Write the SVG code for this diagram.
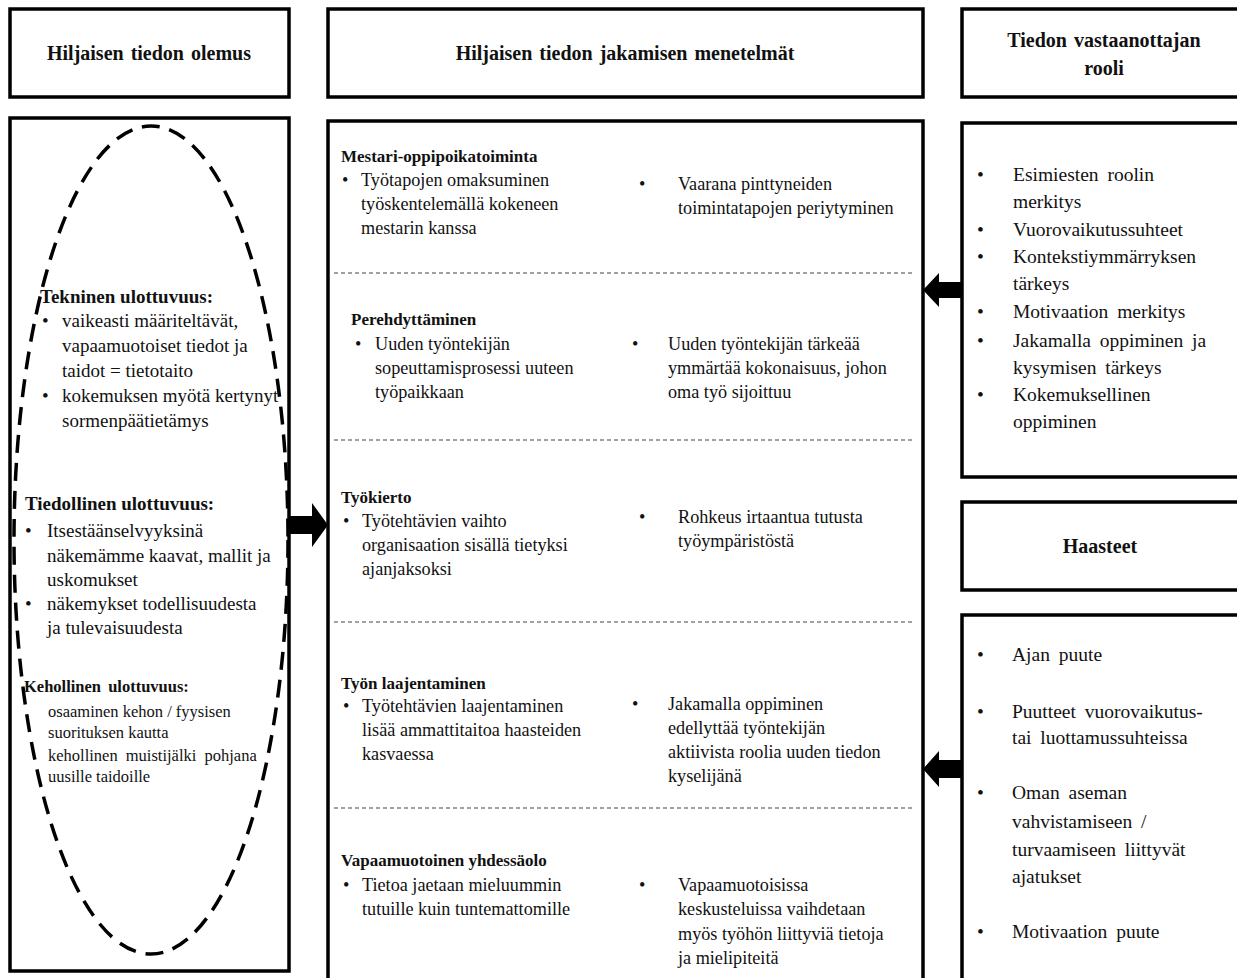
<svg xmlns="http://www.w3.org/2000/svg" width="1237" height="978" viewBox="0 0 1237 978">
<style>
.box{fill:#fff;stroke:#000;stroke-width:3.5}
.sep{stroke:#444;stroke-width:1.2;stroke-dasharray:4 3;fill:none}
text{font-family:"Liberation Serif","Times New Roman",serif;fill:#111}
.h{font-size:20px;font-weight:bold;text-anchor:middle;word-spacing:2px}
.sh{font-size:17px;font-weight:bold}
.t{font-size:18.2px}
.lh{font-size:19px;font-weight:bold}
.lt{font-size:19px}
.k{font-size:16.5px}
.kh{font-size:16.5px;font-weight:bold;word-spacing:3px}
.r{font-size:19.5px;word-spacing:4px}
.arrow{fill:#000}
</style>
<rect width="1237" height="978" fill="#fff"/>

<g id="hdr-olemus">
<rect class="box" x="10" y="9" width="279" height="88"/>
<text class="h" x="149" y="60">Hiljaisen tiedon olemus</text>
</g>

<g id="hdr-menetelmat">
<rect class="box" x="328" y="9" width="595" height="88"/>
<text class="h" x="625" y="60">Hiljaisen tiedon jakamisen menetelmät</text>
</g>

<g id="hdr-rooli">
<rect class="box" x="962" y="9" width="290" height="88"/>
<text class="h" x="1104" y="47">Tiedon vastaanottajan</text>
<text class="h" x="1104" y="75">rooli</text>
</g>

<g id="olemus">
<rect class="box" x="10" y="118" width="279" height="853"/>
<ellipse cx="151" cy="540" rx="137" ry="414" fill="none" stroke="#000" stroke-width="3.5" stroke-dasharray="18 10"/>
<text class="lh" x="40" y="303">Tekninen ulottuvuus:</text>
<text class="lt" x="42" y="327">•</text>
<text class="lt" x="62" y="327">vaikeasti määriteltävät,</text>
<text class="lt" x="62" y="352">vapaamuotoiset tiedot ja</text>
<text class="lt" x="62" y="377">taidot = tietotaito</text>
<text class="lt" x="42" y="402">•</text>
<text class="lt" x="62" y="402">kokemuksen myötä kertynyt</text>
<text class="lt" x="62" y="427">sormenpäätietämys</text>

<text class="lh" x="25" y="510">Tiedollinen ulottuvuus:</text>
<text class="lt" x="25" y="537">•</text>
<text class="lt" x="47" y="537">Itsestäänselvyyksinä</text>
<text class="lt" x="47" y="562">näkemämme kaavat, mallit ja</text>
<text class="lt" x="47" y="586">uskomukset</text>
<text class="lt" x="25" y="610">•</text>
<text class="lt" x="47" y="610">näkemykset todellisuudesta</text>
<text class="lt" x="47" y="634">ja tulevaisuudesta</text>

<text class="kh" x="24" y="692">Kehollinen ulottuvuus:</text>
<text class="k" x="48" y="717">osaaminen kehon / fyysisen</text>
<text class="k" x="48" y="738">suorituksen kautta</text>
<text class="k" x="48" y="761" word-spacing="4">kehollinen muistijälki pohjana</text>
<text class="k" x="48" y="782">uusille taidoille</text>
</g>

<g id="menetelmat">
<rect class="box" x="328" y="121" width="595" height="870"/>
<line class="sep" x1="334" y1="273" x2="912" y2="273"/>
<line class="sep" x1="334" y1="440" x2="912" y2="440"/>
<line class="sep" x1="334" y1="622" x2="912" y2="622"/>
<line class="sep" x1="334" y1="808" x2="912" y2="808"/>

<text class="sh" x="341" y="162">Mestari-oppipoikatoiminta</text>
<text class="t" x="342" y="186">•</text>
<text class="t" x="361" y="186">Työtapojen omaksuminen</text>
<text class="t" x="361" y="210">työskentelemällä kokeneen</text>
<text class="t" x="361" y="234">mestarin kanssa</text>
<text class="t" x="639" y="190">•</text>
<text class="t" x="678" y="190">Vaarana pinttyneiden</text>
<text class="t" x="678" y="214">toimintatapojen periytyminen</text>

<text class="sh" x="351" y="325">Perehdyttäminen</text>
<text class="t" x="355" y="350">•</text>
<text class="t" x="375" y="350">Uuden työntekijän</text>
<text class="t" x="375" y="374">sopeuttamisprosessi uuteen</text>
<text class="t" x="375" y="398">työpaikkaan</text>
<text class="t" x="632" y="350">•</text>
<text class="t" x="668" y="350">Uuden työntekijän tärkeää</text>
<text class="t" x="668" y="374">ymmärtää kokonaisuus, johon</text>
<text class="t" x="668" y="398">oma työ sijoittuu</text>

<text class="sh" x="341" y="503">Työkierto</text>
<text class="t" x="343" y="527">•</text>
<text class="t" x="362" y="527">Työtehtävien vaihto</text>
<text class="t" x="362" y="551">organisaation sisällä tietyksi</text>
<text class="t" x="362" y="575">ajanjaksoksi</text>
<text class="t" x="639" y="523">•</text>
<text class="t" x="678" y="523">Rohkeus irtaantua tutusta</text>
<text class="t" x="678" y="547">työympäristöstä</text>

<text class="sh" x="341" y="689">Työn laajentaminen</text>
<text class="t" x="343" y="712">•</text>
<text class="t" x="362" y="712">Työtehtävien laajentaminen</text>
<text class="t" x="362" y="736">lisää ammattitaitoa haasteiden</text>
<text class="t" x="362" y="760">kasvaessa</text>
<text class="t" x="632" y="710">•</text>
<text class="t" x="668" y="710">Jakamalla oppiminen</text>
<text class="t" x="668" y="734">edellyttää työntekijän</text>
<text class="t" x="668" y="758">aktiivista roolia uuden tiedon</text>
<text class="t" x="668" y="782">kyselijänä</text>

<text class="sh" x="341" y="866">Vapaamuotoinen yhdessäolo</text>
<text class="t" x="343" y="891">•</text>
<text class="t" x="362" y="891">Tietoa jaetaan mieluummin</text>
<text class="t" x="362" y="915">tutuille kuin tuntemattomille</text>
<text class="t" x="639" y="891">•</text>
<text class="t" x="678" y="891">Vapaamuotoisissa</text>
<text class="t" x="678" y="915">keskusteluissa vaihdetaan</text>
<text class="t" x="678" y="940">myös työhön liittyviä tietoja</text>
<text class="t" x="678" y="964">ja mielipiteitä</text>
</g>

<g id="rooli">
<rect class="box" x="962" y="123" width="290" height="354"/>
<text class="r" x="977" y="181">•</text>
<text class="r" x="1013" y="181">Esimiesten roolin</text>
<text class="r" x="1013" y="208">merkitys</text>
<text class="r" x="977" y="236">•</text>
<text class="r" x="1013" y="236">Vuorovaikutussuhteet</text>
<text class="r" x="977" y="263">•</text>
<text class="r" x="1013" y="263">Kontekstiymmärryksen</text>
<text class="r" x="1013" y="290">tärkeys</text>
<text class="r" x="977" y="318">•</text>
<text class="r" x="1013" y="318">Motivaation merkitys</text>
<text class="r" x="977" y="347">•</text>
<text class="r" x="1013" y="347">Jakamalla oppiminen ja</text>
<text class="r" x="1013" y="374">kysymisen tärkeys</text>
<text class="r" x="977" y="401">•</text>
<text class="r" x="1013" y="401">Kokemuksellinen</text>
<text class="r" x="1013" y="428">oppiminen</text>
</g>

<g id="hdr-haasteet">
<rect class="box" x="962" y="502" width="290" height="88"/>
<text class="h" x="1100" y="553">Haasteet</text>
</g>

<g id="haasteet">
<rect class="box" x="962" y="615" width="290" height="380"/>
<text class="r" x="977" y="661">•</text>
<text class="r" x="1012" y="661">Ajan puute</text>
<text class="r" x="977" y="718">•</text>
<text class="r" x="1012" y="718">Puutteet vuorovaikutus-</text>
<text class="r" x="1012" y="744">tai luottamussuhteissa</text>
<text class="r" x="977" y="799">•</text>
<text class="r" x="1012" y="799">Oman aseman</text>
<text class="r" x="1012" y="828">vahvistamiseen /</text>
<text class="r" x="1012" y="856">turvaamiseen liittyvät</text>
<text class="r" x="1012" y="883">ajatukset</text>
<text class="r" x="977" y="938">•</text>
<text class="r" x="1012" y="938">Motivaation puute</text>
</g>

<g id="connectors">
<polygon class="arrow" points="289,516 312,516 312,503 328,525 312,547 312,534 289,534"/>
<polygon class="arrow" points="962,282 939,282 939,273 923,290 939,307 939,298 962,298"/>
<polygon class="arrow" points="962,760 939,760 939,751 923,769 939,787 939,778 962,778"/>
</g>
</svg>
